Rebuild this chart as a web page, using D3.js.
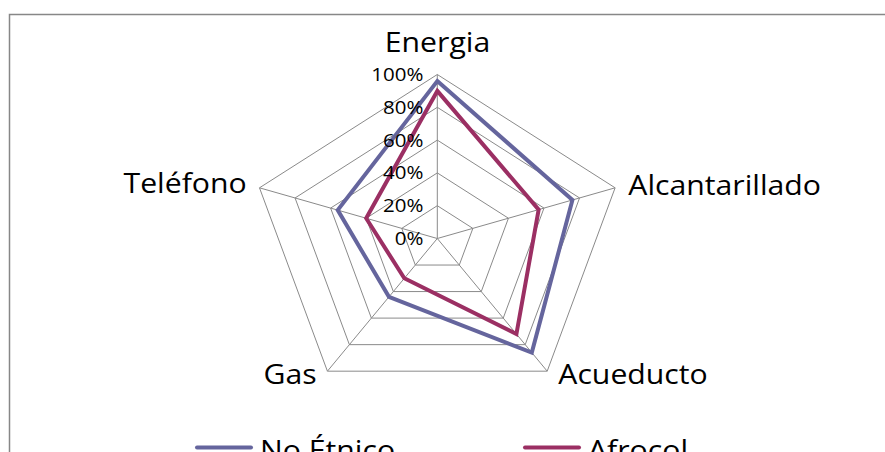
<!DOCTYPE html>
<html><head><meta charset="utf-8">
<script src="https://cdn.jsdelivr.net/npm/d3@7"></script>
<style>body{margin:0;background:#fff}svg{display:block}</style>
</head><body>
<svg id="c" width="885" height="452"></svg>
<script>
const categories = ["Energia","Alcantarillado","Acueducto","Gas","Teléfono"];
const noEtnico = [0.96, 0.76, 0.86, 0.44, 0.56];
const afrocol  = [0.90, 0.57, 0.72, 0.30, 0.40];
const seriesNames = ["No Étnico","Afrocol"];
const tickValues = [0,0.2,0.4,0.6,0.8,1.0];

const svg = d3.select("#c");
const W=885,H=452;
const cx=437.3, cy=238.5, ry=164, sx=1.14;
const FONT="'Open Sans', sans-serif";
const colors=["#65659d","#9b2f63"];

// frame
svg.append("path").attr("d",`M9.5,${H} L9.5,14.5 L${W},14.5`).attr("fill","none").attr("stroke","#878787").attr("stroke-width",1.5);

const r = d3.scaleLinear().domain([0,1]).range([0,ry]);
const ang = d3.scalePoint().domain(categories).range([0, 2*Math.PI*(categories.length-1)/categories.length]);
const px=(c,v)=>cx+sx*r(v)*Math.sin(ang(c));
const py=(c,v)=>cy-r(v)*Math.cos(ang(c));

const g=svg.append("g");
// rings
tickValues.forEach(t=>{
  g.append("path").attr("d", d3.line()(categories.map(c=>[px(c,t),py(c,t)]))+"Z")
   .attr("fill","none").attr("stroke","#8a8a8a").attr("stroke-width",1);
});
// spokes
categories.forEach(c=>{
  g.append("line").attr("x1",cx).attr("y1",cy).attr("x2",px(c,1)).attr("y2",py(c,1))
   .attr("stroke","#8a8a8a").attr("stroke-width",1);
});

// series
[noEtnico,afrocol].forEach((s,i)=>{
  g.append("path").attr("d", d3.line()(categories.map((c,j)=>[px(c,s[j]),py(c,s[j])]))+"Z")
   .attr("fill","none").attr("stroke",colors[i]).attr("stroke-width",4).attr("stroke-linejoin","miter");
});

function txt(x,y,s,size,anchor){
  return svg.append("text").attr("transform",`translate(${x},${y}) scale(${sx},1)`)
    .attr("text-anchor",anchor).attr("font-family",FONT).attr("font-size",size).attr("fill","#000").text(s);
}
// tick labels
const fmt=d3.format(".0%");
tickValues.forEach(t=>{
  txt(423.5, cy-r(t)+6.5, fmt(t), 18, "end");
});

// category labels
const labelPos={
  "Energia":[437.5,51.7,"middle"],
  "Alcantarillado":[628.3,195,"start"],
  "Acueducto":[558.3,384.3,"start"],
  "Gas":[316.7,384.3,"end"],
  "Teléfono":[246.7,193.3,"end"]
};
categories.forEach(c=>{const p=labelPos[c]; txt(p[0],p[1],c,26.5,p[2]);});

// legend
const legX=[197,525];
seriesNames.forEach((n,i)=>{
  svg.append("line").attr("x1",legX[i]).attr("x2",legX[i]+54).attr("y1",447.5).attr("y2",447.5)
    .attr("stroke",colors[i]).attr("stroke-width",4).attr("stroke-linecap","round");
  txt(legX[i]+63, 459.5, n, 26.5, "start");
});
</script>
</body></html>
